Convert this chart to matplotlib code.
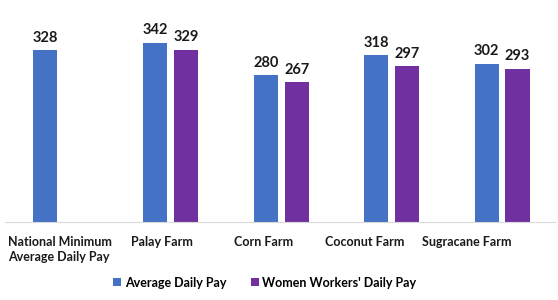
import matplotlib.pyplot as plt
import numpy as np

# Data
categories = ["National Minimum\nAverage Daily Pay", "Palay Farm", "Corn Farm",
              "Coconut Farm", "Sugracane Farm"]
avg_pay = [328, 342, 280, 318, 302]
women_pay = [np.nan, 329, 267, 297, 293]
series_names = ["Average Daily Pay", "Women Workers' Daily Pay"]

blue = "#4472C4"
purple = "#7030A0"

plt.rcParams['font.family'] = ['Lato', 'DejaVu Sans']

fig = plt.figure(figsize=(5.58, 3.0), dpi=100)
ax = fig.add_axes([0.009, 0.26, 0.986, 0.66])

x = np.arange(len(categories))
w = 0.22
off = 0.14
b1 = ax.bar(x - off, avg_pay, w, color=blue, label=series_names[0])
b2 = ax.bar(x + off, women_pay, w, color=purple, label=series_names[1])

for bars, vals in ((b1, avg_pay), (b2, women_pay)):
    for rect, v in zip(bars, vals):
        if np.isnan(v):
            continue
        ax.annotate(f"{v:.0f}", (rect.get_x() + rect.get_width() / 2, v),
                    xytext=(0, 4), textcoords="offset points",
                    ha="center", va="bottom", fontsize=10.5,
                    fontweight="bold", color="#1a1a1a")

ax.set_xlim(-0.5, 4.48)
ax.set_ylim(0, 378)
ax.set_xticks(x * 0.92)
ax.set_xticklabels(categories, fontsize=9, fontweight="bold", color="#1a1a1a",
                   linespacing=1.3)
for lbl in ax.get_xticklabels():
    lbl.set_multialignment("left")
ax.tick_params(axis="x", length=0, pad=10)
ax.set_yticks([])
for side in ("top", "right", "left"):
    ax.spines[side].set_visible(False)
ax.spines["bottom"].set_color("#D9D9D9")

fig.legend(handles=[b1, b2], loc="lower center", bbox_to_anchor=(0.475, 0.0),
           ncol=2, frameon=False, handlelength=0.6, handleheight=0.6,
           handletextpad=0.3, columnspacing=2.0,
           prop={"size": 9, "weight": "bold"})

fig.savefig("out.png", dpi=100)
